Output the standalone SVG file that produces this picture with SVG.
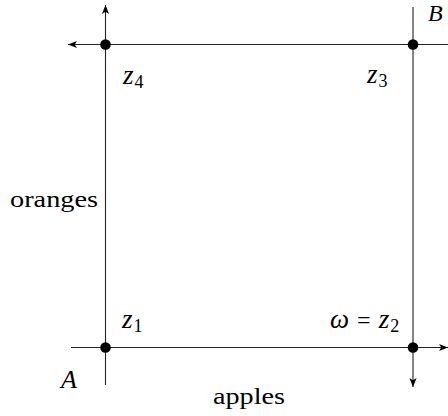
<svg xmlns="http://www.w3.org/2000/svg" width="448" height="416" viewBox="0 0 448 416">
<style>
.ln{stroke:#222;stroke-width:1.1;fill:none}
.m{font-family:"Liberation Serif",serif;font-style:italic;font-size:24px;fill:#000}
.z{font-size:27px}
.cap{font-size:26px}
.t{font-family:"Liberation Serif",serif;font-size:24px;fill:#000}
.sub{font-size:18px;font-style:normal}
.dot{fill:#000}
</style>
<defs>
<marker id="ah" viewBox="0 0 10 10" refX="10" refY="5" markerWidth="9" markerHeight="9" markerUnits="userSpaceOnUse" orient="auto">
<path d="M0,1 L10,5 L0,9 L2.5,5 Z" fill="#000"/>
</marker>
</defs>
<rect width="448" height="416" fill="#fff"/>
<g id="connectors">
<line class="ln" x1="105.5" y1="385" x2="105.5" y2="5" marker-end="url(#ah)"/>
<line class="ln" x1="448" y1="44.5" x2="68" y2="44.5" marker-end="url(#ah)"/>
<line class="ln" x1="413" y1="7" x2="413" y2="387" marker-end="url(#ah)"/>
<line class="ln" x1="71" y1="347.5" x2="448" y2="347.5" marker-end="url(#ah)"/>
</g>
<g id="z4"><circle class="dot" cx="105.5" cy="44.5" r="5.3"/><text class="m" x="123" y="84"><tspan class="z">z</tspan><tspan class="sub" dx="1" dy="3.5">4</tspan></text></g>
<g id="z3"><circle class="dot" cx="413" cy="44.5" r="5.3"/><text class="m" x="367" y="83"><tspan class="z">z</tspan><tspan class="sub" dx="1" dy="3.5">3</tspan></text></g>
<g id="z1"><circle class="dot" cx="105.5" cy="347.5" r="5.3"/><text class="m" x="122" y="328"><tspan class="z">z</tspan><tspan class="sub" dx="1" dy="3.5">1</tspan></text></g>
<g id="z2"><circle class="dot" cx="413" cy="347.5" r="5.3"/><text class="m" x="330" y="328"><tspan class="z">ω</tspan><tspan font-style="normal" dx="8">=</tspan><tspan class="z" dx="8">z</tspan><tspan class="sub" dx="1" dy="3.5">2</tspan></text></g>
<g id="A"><text class="m cap" x="61" y="388">A</text></g>
<g id="B"><text class="m" x="428" y="21">B</text></g>
<g id="apples"><text class="t" x="213" y="404" textLength="72" lengthAdjust="spacingAndGlyphs">apples</text></g>
<g id="oranges"><text class="t" x="10" y="207" textLength="88" lengthAdjust="spacingAndGlyphs">oranges</text></g>
</svg>
